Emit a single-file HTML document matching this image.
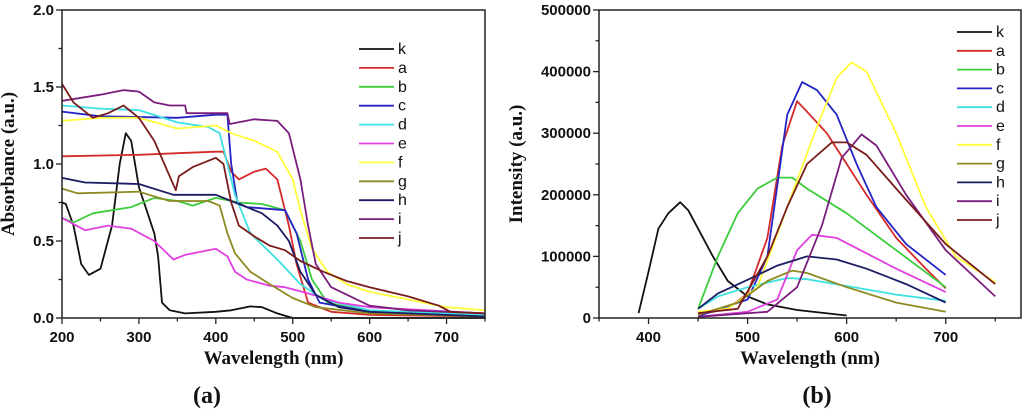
<!DOCTYPE html>
<html><head><meta charset="utf-8"><style>
html,body{margin:0;padding:0;background:#fff;}
svg{display:block;}
.tk{font:bold 15px "Liberation Sans",sans-serif;fill:#111;}
.ttl{font:bold 19px "Liberation Serif",serif;fill:#111;}
.lg{font:16px "Liberation Sans",sans-serif;fill:#111;}
.pl{font:bold 24px "Liberation Serif",serif;fill:#111;}
</style></head><body>
<svg id="c" width="1024" height="416" xmlns="http://www.w3.org/2000/svg"></svg>
<script>
const names=['k','a','b','c','d','e','f','g','h','i','j'];
const colors=['#111111','#d42a2a','#3ccc3c','#2424c4','#3ee0e0','#e040e0','#ffff3a','#8e8a22','#1c1c64','#7a1e7e','#7a1c1c'];
// Panel a: absorbance [wavelength, value]
const absK=[[200,.75],[205,.74],[215,.6],[225,.35],[235,.28],[250,.32],[265,.6],[275,1.0],[283,1.2],[290,1.15],[300,.85],[310,.7],[320,.55],[325,.4],[330,.1],[340,.05],[360,.03],[400,.04],[420,.05],[445,.075],[460,.07],[480,.03],[500,0],[750,0]];
const absA=[[200,1.05],[300,1.06],[350,1.07],[400,1.08],[410,1.08],[420,.95],[430,.9],[450,.95],[465,.97],[480,.9],[495,.6],[505,.35],[520,.1],[550,.04],[600,.02],[750,.01]];
const absB=[[200,.65],[215,.62],[240,.68],[290,.72],[320,.78],[350,.76],[370,.73],[400,.78],[430,.75],[460,.74],[490,.7],[510,.5],[525,.25],[545,.1],[600,.04],[750,.01]];
const absC=[[200,1.34],[250,1.31],[350,1.3],[400,1.32],[415,1.32],[420,1.0],[428,.75],[440,.72],[490,.7],[505,.55],[520,.25],[535,.1],[600,.04],[750,.02]];
const absD=[[200,1.38],[250,1.36],[300,1.35],[350,1.27],[390,1.24],[405,1.2],[415,1.0],[425,.8],[445,.55],[480,.38],[510,.22],[540,.12],[600,.05],[750,.02]];
const absE=[[200,.65],[230,.57],[260,.6],[290,.58],[320,.5],[345,.38],[360,.41],[400,.45],[415,.4],[425,.3],[440,.25],[470,.21],[490,.2],[520,.16],[560,.1],[600,.07],[750,.03]];
const absF=[[200,1.28],[250,1.3],[300,1.3],[350,1.23],[400,1.25],[420,1.2],[450,1.15],[480,1.08],[500,.9],[510,.7],[525,.45],[545,.3],[570,.22],[600,.17],[650,.12],[700,.07],[750,.05]];
const absG=[[200,.84],[220,.81],[300,.82],[340,.76],[390,.76],[405,.73],[415,.55],[425,.42],[445,.3],[470,.22],[500,.13],[530,.07],[600,.03],[750,.01]];
const absH=[[200,.91],[230,.88],[300,.87],[345,.8],[400,.8],[420,.76],[440,.72],[460,.68],[480,.6],[495,.5],[510,.3],[530,.15],[560,.07],[600,.04],[750,.01]];
const absI=[[200,1.41],[250,1.45],[280,1.48],[300,1.47],[320,1.4],[340,1.38],[360,1.38],[362,1.33],[400,1.33],[415,1.33],[418,1.26],[450,1.29],[480,1.28],[495,1.2],[510,.9],[520,.6],[530,.35],[550,.2],[600,.08],[650,.05],[750,.03]];
const absJ=[[200,1.52],[215,1.4],[240,1.3],[260,1.33],[280,1.38],[300,1.3],[320,1.15],[340,.92],[348,.83],[352,.92],[370,.98],[400,1.04],[410,1.0],[420,.75],[430,.6],[450,.53],[470,.47],[490,.44],[510,.37],[540,.3],[570,.24],[600,.2],[650,.14],[690,.08],[705,.04],[750,.03]];
// Panel b: intensity
const plK=[[390,8000],[400,75000],[410,145000],[420,170000],[432,188000],[440,175000],[450,145000],[465,100000],[480,60000],[500,35000],[520,22000],[550,13000],[600,4000]];
const plA=[[450,5000],[480,15000],[500,40000],[520,130000],[535,280000],[550,352000],[560,335000],[580,300000],[600,250000],[620,200000],[650,130000],[680,80000],[700,48000]];
const plB=[[450,15000],[470,100000],[490,170000],[510,210000],[530,228000],[545,228000],[560,210000],[600,170000],[650,110000],[700,50000]];
const plC=[[450,3000],[500,30000],[520,100000],[540,330000],[555,383000],[570,370000],[590,330000],[610,250000],[630,180000],[660,120000],[700,70000]];
const plD=[[450,15000],[470,35000],[500,50000],[540,65000],[560,63000],[600,52000],[650,38000],[700,28000]];
const plE=[[450,2000],[500,10000],[530,30000],[550,110000],[565,135000],[590,130000],[620,105000],[650,80000],[700,42000]];
const plF=[[450,10000],[480,15000],[510,50000],[540,180000],[570,310000],[590,390000],[605,415000],[620,400000],[650,300000],[680,180000],[710,100000],[750,58000]];
const plG=[[450,5000],[490,25000],[520,60000],[545,77000],[560,73000],[600,50000],[650,25000],[700,10000]];
const plH=[[450,15000],[470,40000],[500,62000],[530,85000],[560,100000],[590,95000],[620,80000],[660,55000],[700,25000]];
const plI=[[450,2000],[520,10000],[550,50000],[575,150000],[595,260000],[615,298000],[630,280000],[660,200000],[700,110000],[750,35000]];
const plJ=[[450,8000],[490,15000],[520,100000],[540,180000],[560,250000],[585,285000],[600,285000],[620,265000],[650,210000],[700,120000],[750,55000]];
const absTicksX=[200,300,400,500,600,700];
const absTicksY=[0,0.5,1.0,1.5,2.0];
const plTicksX=[400,500,600,700];
const plTicksY=[0,100000,200000,300000,400000,500000];

const svg=document.getElementById('c');
const NS='http://www.w3.org/2000/svg';
function mk(t,a,p){const e=document.createElementNS(NS,t);for(const k in a)e.setAttribute(k,a[k]);(p||svg).appendChild(e);return e;}

function panel(o){
  const g=mk('g',{});
  
  
  const sx=v=>o.x0+(v-o.xmin)/(o.xmax-o.xmin)*(o.x1-o.x0);
  const sy=v=>o.y0-(v-o.ymin)/(o.ymax-o.ymin)*(o.y0-o.y1);
  o.series.forEach((s,i)=>{
    const p=mk('path',{d:'M'+s.map(d=>sx(d[0]).toFixed(1)+','+sy(d[1]).toFixed(1)).join('L'),fill:'none',stroke:colors[i],'stroke-width':1.8,'stroke-linejoin':'round'},g);
    
    
  });
  const fr=mk('rect',{x:o.x0,y:o.y1,width:o.x1-o.x0,height:o.y0-o.y1,fill:'none',stroke:'#222','stroke-width':1.5},g);
  
  
  for(let v=o.xmin;v<=o.xmax;v+=o.xminor){
    const major=o.xt.includes(v);
    mk('line',{x1:sx(v),x2:sx(v),y1:o.y0,y2:o.y0+(major?6:3.5),stroke:'#222','stroke-width':1.3},g);
  }
  o.xt.forEach(v=>{const t=mk('text',{x:sx(v),y:o.y0+24,'text-anchor':'middle',class:'tk'},g);t.textContent=v;
    });
  for(let v=o.ymin;v<=o.ymax+1e-9;v+=o.yminor){
    const major=o.yt.some(t=>Math.abs(t-v)<1e-6);
    mk('line',{x1:o.x0,x2:o.x0-(major?6:3.5),y1:sy(v),y2:sy(v),stroke:'#222','stroke-width':1.3},g);
  }
  o.yt.forEach(v=>{const t=mk('text',{x:o.x0-8,y:sy(v)+5,'text-anchor':'end',class:'tk'},g);t.textContent=o.yf(v);
    });
  const xt=mk('text',{x:(o.x0+o.x1)/2,y:o.y0+46,'text-anchor':'middle',class:'ttl'},g);xt.textContent='Wavelength (nm)';
  
  const yt=mk('text',{x:0,y:0,'text-anchor':'middle',class:'ttl',transform:`translate(${o.ytx},${(o.y0+o.y1)/2}) rotate(-90)`},g);yt.textContent=o.ytitle;
  
  names.forEach((n,i)=>{
    const y=o.ly+i*o.ls;
    const l=mk('line',{x1:o.lx,x2:o.lx+35,y1:y,y2:y,stroke:colors[i],'stroke-width':1.8},g);
    
    const t=mk('text',{x:o.lx+39,y:y+5,class:'lg'},g);t.textContent=n;
    
  });
  const pl=mk('text',{x:o.plx,y:403,'text-anchor':'middle',class:'pl'},g);pl.textContent=o.label;
  
}
panel({id:'absorbance-chart',x0:62,x1:485,y0:318,y1:10,xmin:200,xmax:750,ymin:0,ymax:2,xminor:50,yminor:0.25,
  xt:absTicksX,yt:absTicksY,yf:v=>v.toFixed(1),ytitle:'Absorbance (a.u.)',ytx:14,
  series:[absK,absA,absB,absC,absD,absE,absF,absG,absH,absI,absJ],lx:359,ly:49,ls:18.9,plx:207,label:'(a)'});
panel({id:'emission-chart',x0:599,x1:1021,y0:318,y1:10,xmin:350,xmax:776,ymin:0,ymax:500000,xminor:50,yminor:50000,
  xt:plTicksX,yt:plTicksY,yf:v=>String(v),ytitle:'Intensity (a.u.)',ytx:522,
  series:[plK,plA,plB,plC,plD,plE,plF,plG,plH,plI,plJ],lx:957,ly:32,ls:18.8,plx:817,label:'(b)'});
</script>
</body></html>
